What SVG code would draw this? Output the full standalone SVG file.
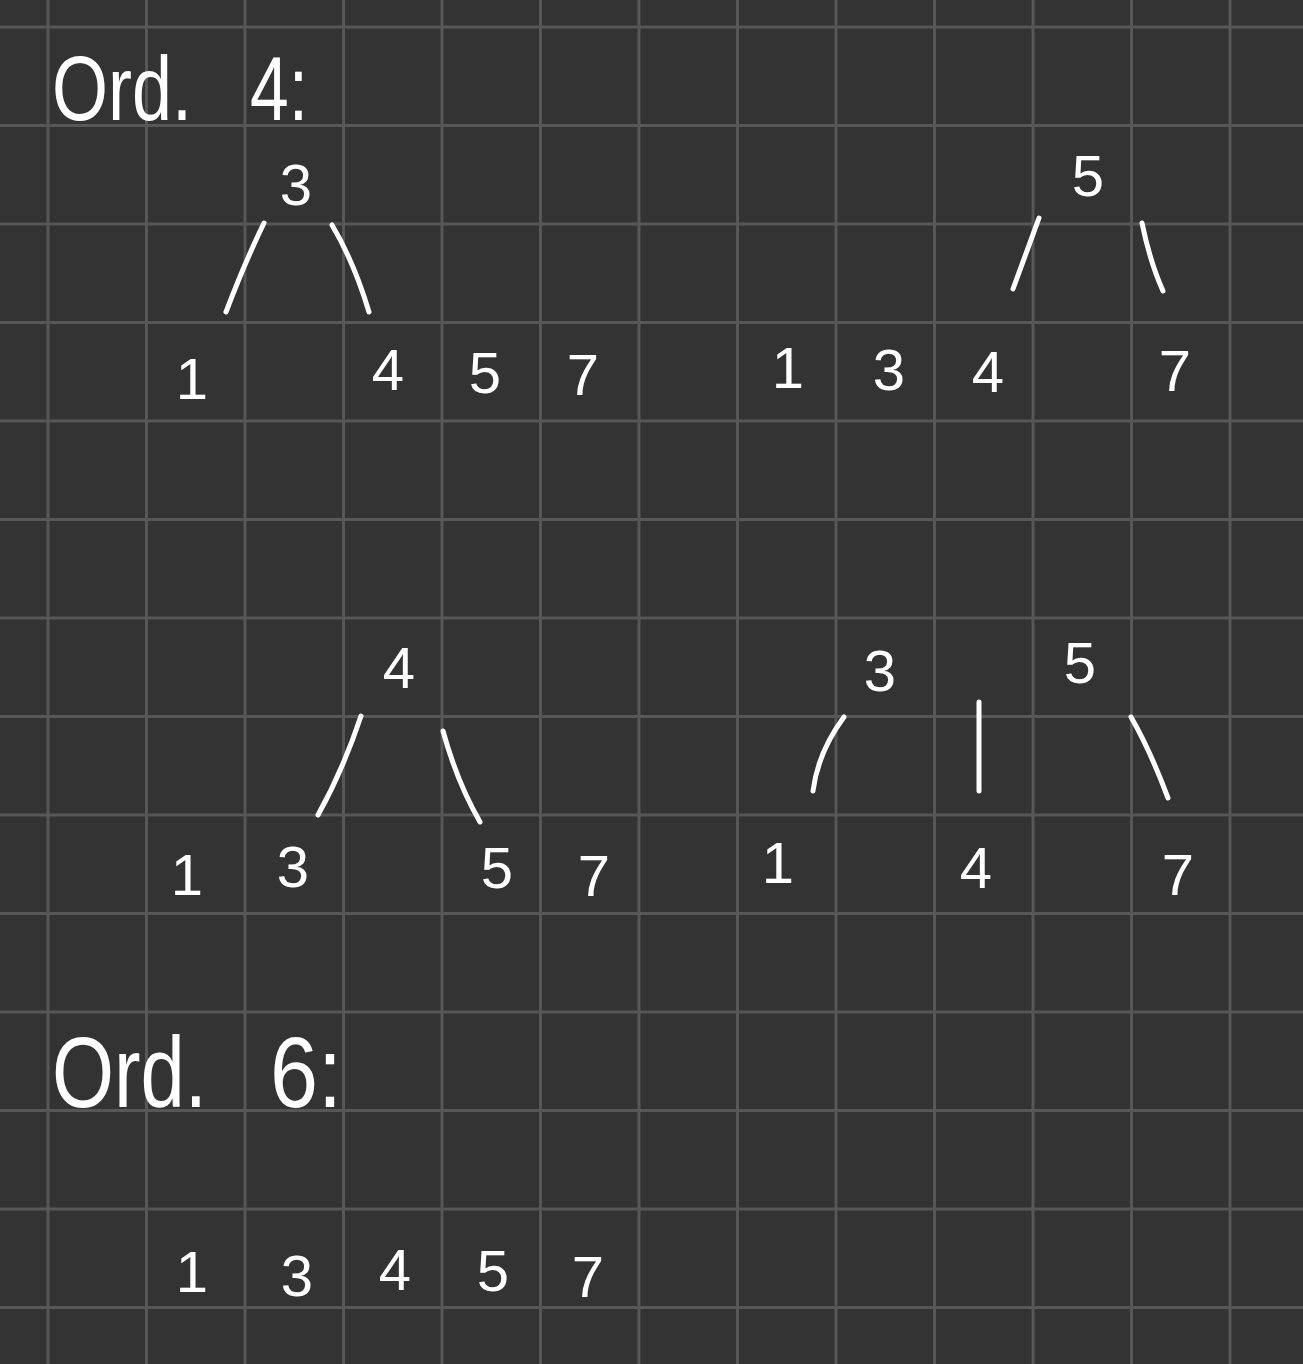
<svg xmlns="http://www.w3.org/2000/svg" width="1303" height="1364" viewBox="0 0 1303 1364">
<style>
.grid line{stroke:#575757;stroke-width:3}
.t{fill:#ffffff;font-family:"Liberation Sans","DejaVu Sans",sans-serif}
.d{fill:#ffffff;font-family:"Liberation Sans","DejaVu Sans",sans-serif;font-size:58px;text-anchor:middle}
.e{fill:none;stroke:#ffffff;stroke-width:5;stroke-linecap:round}
</style>
<rect width="1303" height="1364" fill="#333333"/>
<g class="grid">
<line x1="48" y1="0" x2="48" y2="1364"/>
<line x1="146.5" y1="0" x2="146.5" y2="1364"/>
<line x1="245" y1="0" x2="245" y2="1364"/>
<line x1="343.5" y1="0" x2="343.5" y2="1364"/>
<line x1="442" y1="0" x2="442" y2="1364"/>
<line x1="540.5" y1="0" x2="540.5" y2="1364"/>
<line x1="639" y1="0" x2="639" y2="1364"/>
<line x1="737.5" y1="0" x2="737.5" y2="1364"/>
<line x1="836" y1="0" x2="836" y2="1364"/>
<line x1="934.5" y1="0" x2="934.5" y2="1364"/>
<line x1="1033" y1="0" x2="1033" y2="1364"/>
<line x1="1131.5" y1="0" x2="1131.5" y2="1364"/>
<line x1="1230" y1="0" x2="1230" y2="1364"/>
<line x1="0" y1="27" x2="1303" y2="27"/>
<line x1="0" y1="125.5" x2="1303" y2="125.5"/>
<line x1="0" y1="224" x2="1303" y2="224"/>
<line x1="0" y1="322.5" x2="1303" y2="322.5"/>
<line x1="0" y1="421" x2="1303" y2="421"/>
<line x1="0" y1="519.5" x2="1303" y2="519.5"/>
<line x1="0" y1="618" x2="1303" y2="618"/>
<line x1="0" y1="716.5" x2="1303" y2="716.5"/>
<line x1="0" y1="815" x2="1303" y2="815"/>
<line x1="0" y1="913.5" x2="1303" y2="913.5"/>
<line x1="0" y1="1012" x2="1303" y2="1012"/>
<line x1="0" y1="1110.5" x2="1303" y2="1110.5"/>
<line x1="0" y1="1209" x2="1303" y2="1209"/>
<line x1="0" y1="1307.5" x2="1303" y2="1307.5"/>
</g>
<g id="title-ord4"><text class="t" y="120" font-size="90"><tspan x="52" textLength="140" lengthAdjust="spacingAndGlyphs">Ord.</tspan><tspan x="250" textLength="58" lengthAdjust="spacingAndGlyphs">4:</tspan></text></g>
<g id="title-ord6"><text class="t" y="1107" font-size="100"><tspan x="52" textLength="155" lengthAdjust="spacingAndGlyphs">Ord.</tspan><tspan x="270" textLength="72" lengthAdjust="spacingAndGlyphs">6:</tspan></text></g>
<g id="connectors">
<path class="e" d="M264 223 Q245 262 226 312"/>
<path class="e" d="M332 225 Q354 262 369 312"/>
<path class="e" d="M1039 218 L1013 289"/>
<path class="e" d="M1142 223 Q1150 262 1163 291"/>
<path class="e" d="M361 716 Q343 770 318 815"/>
<path class="e" d="M443 731 Q457 782 480 822"/>
<path class="e" d="M844 717 Q818 752 813 791"/>
<path class="e" d="M979 702 L979 791"/>
<path class="e" d="M1131 717 Q1150 750 1168 798"/>
</g>
<g id="a-3"><text class="d" x="296" y="205">3</text></g>
<g id="a-1"><text class="d" x="192" y="399">1</text></g>
<g id="a-4"><text class="d" x="388" y="390">4</text></g>
<g id="a-5"><text class="d" x="485" y="393">5</text></g>
<g id="a-7"><text class="d" x="583" y="395">7</text></g>
<g id="b-5"><text class="d" x="1088" y="196">5</text></g>
<g id="b-1"><text class="d" x="788" y="388">1</text></g>
<g id="b-3"><text class="d" x="889" y="390">3</text></g>
<g id="b-4"><text class="d" x="988" y="392">4</text></g>
<g id="b-7"><text class="d" x="1175" y="391">7</text></g>
<g id="c-4"><text class="d" x="399" y="688">4</text></g>
<g id="c-1"><text class="d" x="187" y="895">1</text></g>
<g id="c-3"><text class="d" x="293" y="887">3</text></g>
<g id="c-5"><text class="d" x="497" y="888">5</text></g>
<g id="c-7"><text class="d" x="594" y="896">7</text></g>
<g id="d-3"><text class="d" x="880" y="691">3</text></g>
<g id="d-5"><text class="d" x="1080" y="683">5</text></g>
<g id="d-1"><text class="d" x="778" y="883">1</text></g>
<g id="d-4"><text class="d" x="976" y="888">4</text></g>
<g id="d-7"><text class="d" x="1178" y="895">7</text></g>
<g id="e-1"><text class="d" x="192" y="1292">1</text></g>
<g id="e-3"><text class="d" x="297" y="1296">3</text></g>
<g id="e-4"><text class="d" x="395" y="1290">4</text></g>
<g id="e-5"><text class="d" x="493" y="1291">5</text></g>
<g id="e-7"><text class="d" x="588" y="1297">7</text></g>
</svg>
